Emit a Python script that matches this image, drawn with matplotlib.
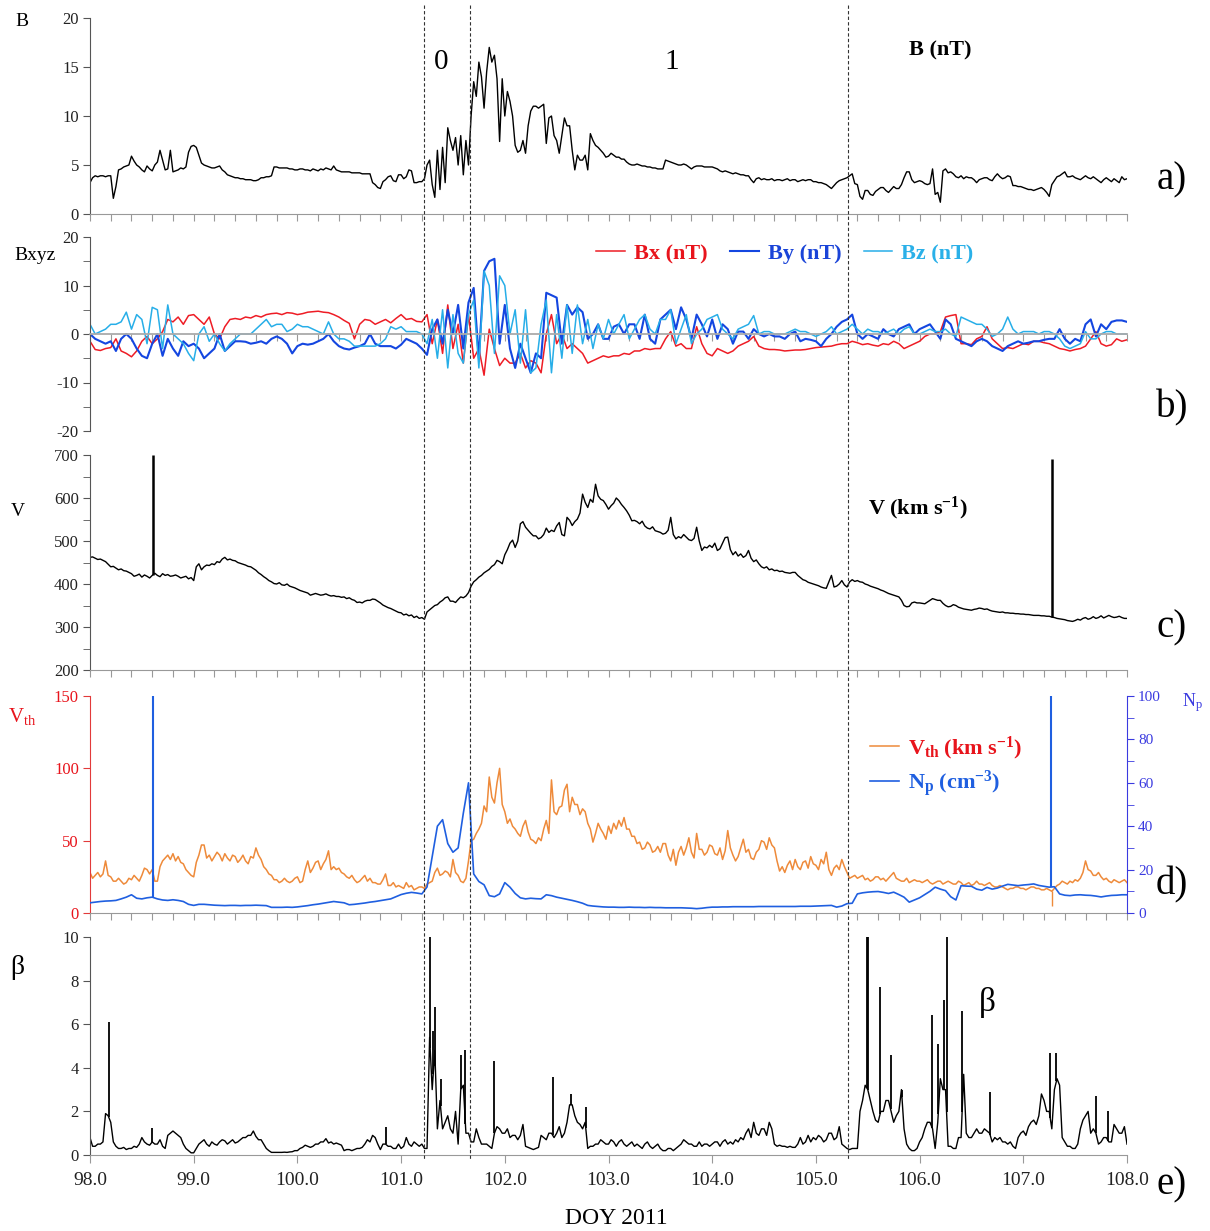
import numpy as np
import matplotlib.pyplot as plt
from matplotlib.lines import Line2D
from matplotlib.ticker import MultipleLocator, FormatStrFormatter

plt.rcParams['font.family'] = ['Liberation Serif', 'DejaVu Serif']
plt.rcParams['mathtext.fontset'] = 'custom'
plt.rcParams['mathtext.rm'] = 'Liberation Serif'
plt.rcParams['mathtext.it'] = 'Liberation Serif:italic'
plt.rcParams['mathtext.bf'] = 'Liberation Serif:bold'
plt.rcParams['axes.unicode_minus'] = False

# time bases, DOY 2011: field components and density every 0.05 day (20 per row),
# |B|, V, Vth and beta every 0.025 day (40 per row)
doy = np.round(98 + 0.05 * np.arange(201), 3)
doy_fine = np.round(98 + 0.025 * np.arange(401), 3)

b_total = [
    3.2, 3.7, 3.9, 3.8, 3.9, 3.9, 3.8, 3.9, 3.9, 1.6, 2.8, 4.5, 4.6, 4.8, 4.9, 5.0, 5.9, 5.4, 5.0, 4.8,
    4.5, 4.3, 4.9, 4.6, 4.4, 5.0, 5.3, 6.5, 5.5, 4.5, 4.6, 6.5, 4.3, 4.4, 4.5, 4.7, 4.6, 4.8, 6.3, 6.9,
    7.0, 6.8, 6.0, 5.2, 5.0, 4.9, 4.8, 4.7, 4.7, 4.8, 4.9, 4.5, 4.3, 4.0, 3.9, 3.8, 3.7, 3.7, 3.6, 3.6,
    3.5, 3.5, 3.5, 3.4, 3.4, 3.5, 3.7, 3.7, 3.8, 3.8, 3.9, 4.8, 4.8, 4.7, 4.7, 4.7, 4.7, 4.6, 4.6, 4.5,
    4.5, 4.6, 4.6, 4.5, 4.5, 4.4, 4.6, 4.5, 4.4, 4.6, 4.5, 4.7, 4.6, 4.5, 4.9, 4.5, 4.4, 4.3, 4.3, 4.3,
    4.3, 4.2, 4.2, 4.2, 4.2, 4.1, 4.1, 4.1, 4.1, 3.2, 3.0, 2.7, 2.6, 3.3, 3.5, 3.8, 3.9, 3.4, 3.3, 4.0,
    4.0, 3.6, 3.8, 4.5, 4.4, 3.2, 3.2, 3.3, 3.3, 3.6, 5.0, 5.5, 3.0, 1.7, 6.5, 2.5, 6.8, 3.2, 8.8, 7.5,
    6.5, 7.8, 5.0, 8.0, 4.0, 7.5, 5.0, 10.0, 13.5, 12.0, 15.5, 14.0, 10.8, 14.5, 17.0, 15.5, 16.2, 13.8, 7.4, 13.8,
    10.0, 12.5, 11.5, 10.0, 7.0, 6.3, 6.5, 7.5, 6.2, 9.0, 10.5, 11.0, 11.0, 10.8, 11.0, 11.2, 7.2, 9.8, 10.0, 8.0,
    7.5, 6.2, 8.0, 9.8, 9.0, 9.0, 6.5, 4.5, 6.0, 5.5, 5.5, 6.0, 4.5, 8.2, 7.5, 7.0, 6.8, 6.5, 6.2, 5.8,
    5.9, 6.2, 6.0, 5.8, 5.8, 5.6, 5.6, 5.3, 5.1, 5.0, 5.0, 5.1, 5.0, 4.9, 4.9, 4.8, 4.8, 4.7, 4.7, 4.6,
    4.6, 4.6, 5.5, 5.4, 5.3, 5.2, 5.1, 5.0, 5.0, 5.1, 5.0, 4.8, 4.6, 4.8, 4.9, 4.9, 4.9, 4.8, 4.8, 4.8,
    4.8, 4.7, 4.6, 4.4, 4.3, 4.4, 4.3, 4.2, 4.1, 4.2, 4.1, 4.0, 4.0, 3.9, 3.9, 3.5, 3.2, 3.6, 3.7, 3.5,
    3.6, 3.5, 3.5, 3.6, 3.4, 3.5, 3.5, 3.4, 3.5, 3.6, 3.4, 3.5, 3.5, 3.3, 3.4, 3.5, 3.4, 3.5, 3.5, 3.3,
    3.3, 3.2, 3.2, 3.1, 3.0, 2.8, 2.6, 2.9, 3.2, 3.4, 3.5, 3.6, 3.7, 3.9, 4.1, 3.1, 3.0, 1.8, 1.5, 2.4,
    2.4, 2.0, 1.9, 2.3, 2.5, 2.7, 2.7, 2.4, 2.2, 2.5, 2.8, 2.6, 2.6, 3.0, 3.7, 4.3, 4.3, 3.5, 3.2, 3.3,
    3.4, 3.3, 3.1, 3.0, 3.1, 4.6, 2.0, 2.2, 1.2, 4.4, 4.6, 4.2, 4.3, 4.1, 3.8, 3.7, 3.9, 3.6, 3.8, 3.7,
    3.7, 3.5, 3.2, 3.5, 3.6, 3.7, 3.7, 3.5, 3.4, 3.8, 4.1, 3.8, 3.6, 3.7, 3.9, 3.8, 2.9, 2.9, 2.8, 2.8,
    2.7, 2.6, 2.5, 2.5, 2.4, 2.5, 2.6, 2.7, 2.5, 2.2, 1.8, 3.0, 3.4, 3.8, 3.9, 4.1, 4.3, 3.8, 3.8, 3.9,
    3.7, 3.6, 3.5, 3.7, 3.9, 3.7, 3.6, 3.8, 3.6, 3.4, 3.2, 3.5, 3.7, 3.5, 3.3, 3.6, 3.4, 3.2, 3.8, 3.5,
    3.6]

b_x = [
    -1.5, -3.2, -3.4, -3.0, -2.8, -1.0, -3.5, -4.0, -4.7, -3.5, -1.5, -0.5, -2.0, -1.0, 0.5, 3.0, 2.5, 3.5, 2.0, 3.8,
    4.0, 3.0, 2.0, 3.5, 0.0, -1.0, 1.5, 3.0, 3.2, 3.0, 3.5, 3.3, 3.8, 3.5, 4.0, 4.2, 4.3, 4.0, 4.4, 4.3,
    4.0, 4.2, 4.5, 4.6, 4.7, 4.5, 4.4, 4.0, 3.5, 2.8, 2.2, -1.0, 2.0, 3.0, 2.8, 2.0, 2.5, 3.0, 2.3, 3.2,
    4.0, 3.0, 3.2, 2.6, 2.5, 4.0, -2.0, 3.0, -4.0, 6.0, -3.0, 2.0, -6.0, 4.0, -5.0, -3.0, -8.5, 1.0, -3.0, -6.5,
    -5.0, -6.0, -6.0, -4.0, -7.0, -5.5, -6.0, -8.0, 0.0, 4.0, -2.0, 0.0, -3.0, -2.0, -3.0, -4.0, -6.0, -5.5, -5.0, -4.5,
    -4.8, -4.5, -4.5, -4.0, -4.2, -3.5, -3.5, -3.0, -3.2, -3.0, -3.0, -1.0, 0.5, -2.5, -2.0, -3.0, -3.0, 1.5, -2.0, -4.0,
    -4.5, -3.0, -3.5, -4.0, -3.5, -2.5, -2.0, -1.5, -0.5, -2.5, -3.0, -3.2, -3.2, -3.3, -3.5, -3.4, -3.3, -3.3, -3.2, -3.0,
    -2.8, -2.7, -2.6, -2.5, -2.2, -2.0, -2.0, -1.5, -1.8, -2.2, -2.0, -2.3, -2.5, -2.0, -2.2, -1.5, -2.0, -3.0, -2.5, -2.0,
    -1.5, -0.5, 0.0, 0.0, 0.5, 3.5, 3.8, 4.0, -2.0, -2.0, -2.2, -1.0, -0.5, 1.5, -1.0, -2.0, -3.0, -2.8, -3.0, -2.5,
    -2.0, -2.2, -1.5, -1.5, -1.8, -2.0, -2.5, -3.0, -3.2, -3.5, -3.2, -3.0, -2.5, -1.0, 0.5, -2.0, -2.5, -2.2, -1.0, -1.5,
    -1.2]

b_y = [
    0.0, -1.0, -1.5, -2.0, -1.5, -3.5, -1.0, 0.0, -1.0, -3.0, -4.5, -5.0, -2.0, 0.0, -4.5, -1.0, -3.0, -4.5, -1.5, -2.5,
    -2.0, -3.0, -5.0, -4.0, -3.0, 0.0, -3.5, -2.5, -1.5, -1.5, -1.6, -2.0, -1.8, -1.5, -2.0, -1.0, -0.5, -1.0, -2.0, -4.0,
    -2.5, -2.0, -2.2, -2.0, -1.5, -1.0, 0.0, -1.5, -2.5, -3.0, -3.2, -2.8, -2.5, -2.0, 0.0, -2.0, -2.5, -2.5, -2.5, -3.0,
    -2.2, -1.0, -1.5, -2.0, -3.0, -4.3, 1.0, 3.0, -2.0, 5.0, 0.0, 6.0, -3.0, 6.5, 9.5, -5.0, 13.0, 15.0, 15.5, -2.0,
    6.0, -3.0, -7.0, -2.0, -5.0, -8.0, -4.0, -5.0, 8.5, 8.0, 7.5, -2.0, 6.0, 4.0, 5.5, 4.5, -1.0, 0.0, 2.0, -1.0,
    -1.0, 1.5, 2.0, 0.0, 2.0, 2.0, -1.0, 4.0, -1.0, -2.0, 3.0, 4.0, 5.0, 1.0, 5.5, 3.0, -1.0, 4.0, 2.0, -0.5,
    3.0, -1.0, 2.0, 1.0, -2.0, 0.5, 0.5, -1.0, 1.0, 0.0, -0.5, 0.0, -0.5, -0.5, -1.0, 0.0, 0.5, -1.5, -1.0, -1.2,
    -1.5, -2.5, -1.0, 0.0, 1.5, 2.5, 3.0, 4.0, 0.0, -1.0, 0.0, -0.5, -1.0, 1.0, 0.0, -0.5, 1.0, 1.5, 2.0, 0.0,
    1.0, 1.5, 2.0, 0.5, -1.0, 3.0, 2.0, -1.0, -1.5, -2.0, -2.5, -1.5, -1.0, -1.5, -2.5, -3.0, -3.5, -2.5, -2.0, -1.5,
    -2.0, -1.8, -1.5, -1.5, -1.2, -1.0, -1.0, 1.0, -1.0, -2.0, -1.0, -1.5, 2.0, 3.0, -0.5, 2.0, 1.0, 2.5, 2.8, 2.8,
    2.5]

b_z = [
    2.0, 0.0, 0.5, 1.0, 2.0, 2.0, 2.5, 4.5, 1.0, 4.0, 3.0, -2.0, 5.5, 5.0, -3.0, 6.0, 0.0, -1.0, -2.0, -4.0,
    -5.5, 0.0, 1.5, -1.5, 0.0, -2.0, -3.5, -2.0, -1.0, 0.0, 0.0, 0.0, 1.0, 2.0, 3.0, 1.5, 2.0, 2.0, 0.5, 1.0,
    2.0, 1.5, 1.5, 1.0, 0.5, 0.0, 2.5, 0.0, -1.0, -1.0, -1.5, -2.5, -2.5, -2.5, -2.5, -2.5, -2.0, -1.0, 1.5, 1.0,
    1.5, 0.5, 0.5, 0.5, 0.0, -2.0, 3.0, -5.0, 5.0, -7.0, 4.0, -4.0, -6.0, 4.0, 7.0, -7.0, 13.0, 10.0, -4.0, 12.0,
    10.0, 0.0, 5.0, -6.0, 5.0, -8.0, -7.0, 2.0, 7.0, -8.0, 4.0, -5.0, 6.0, -4.0, 6.0, -2.0, 3.0, -3.0, 2.0, -1.0,
    3.0, 0.0, 2.0, 4.0, -1.0, 1.0, 3.0, 4.0, 1.0, 0.0, 3.0, 3.0, 5.0, -2.0, 1.0, 4.0, -2.0, 0.0, 1.0, 3.0,
    3.5, 4.0, 1.0, 0.0, -1.0, 1.0, 1.5, 2.0, 3.8, 0.0, 0.5, 0.5, 0.0, 0.0, 0.0, 0.5, 1.0, 0.5, 0.5, 0.0,
    -0.5, 0.0, 0.5, 1.5, 0.0, 0.5, 1.0, 2.0, 1.0, 0.0, 1.0, 0.5, 0.5, 0.0, 0.5, 1.0, 0.0, 1.0, 1.5, 0.0,
    0.0, 0.5, 1.0, 0.5, 0.5, 1.0, 0.0, -0.5, 3.5, 3.0, 2.5, 2.0, 2.0, 1.0, -0.5, 0.0, 1.0, 3.5, 1.0, 0.0,
    0.5, 0.5, 0.5, 0.0, 0.5, 0.5, 0.0, -1.0, -2.5, -3.0, -2.5, -2.0, 0.5, -1.0, -1.0, 0.0, 0.5, 0.5, 0.0, 0.0,
    0.0]

v_speed = [
    462, 463, 460, 457, 458, 455, 452, 446, 440, 441, 437, 433, 435, 431, 430, 427, 424, 418, 420, 423,
    416, 421, 418, 414, 420, 425, 420, 417, 424, 420, 422, 418, 419, 421, 418, 414, 416, 418, 412, 415,
    408, 440, 447, 433, 440, 444, 443, 447, 445, 452, 450, 458, 462, 456, 458, 455, 454, 450, 448, 446,
    444, 441, 440, 436, 432, 426, 422, 417, 413, 408, 405, 401, 400, 403, 398, 397, 400, 395, 393, 391,
    388, 385, 383, 381, 379, 374, 376, 378, 376, 374, 375, 377, 374, 372, 373, 371, 371, 369, 370, 366,
    368, 364, 362, 357, 358, 356, 360, 362, 362, 365, 364, 360, 356, 351, 348, 345, 343, 340, 337, 334,
    333, 328, 330, 326, 328, 322, 325, 320, 322, 318, 335, 340, 345, 350, 352, 358, 362, 368, 370, 360,
    360, 357, 364, 370, 368, 372, 380, 395, 405, 410, 416, 420, 426, 430, 434, 441, 445, 455, 452, 447,
    468, 480, 495, 502, 485, 500, 540, 545, 532, 525, 518, 512, 512, 505, 508, 515, 530, 520, 525, 522,
    535, 543, 515, 512, 555, 548, 536, 545, 551, 565, 609, 590, 578, 597, 590, 632, 605, 597, 594, 585,
    574, 582, 588, 600, 594, 585, 578, 570, 560, 547, 548, 545, 540, 546, 535, 530, 528, 533, 524, 522,
    520, 516, 518, 525, 555, 515, 505, 510, 507, 515, 509, 503, 501, 506, 532, 500, 478, 486, 484, 490,
    485, 495, 478, 482, 495, 508, 509, 480, 468, 475, 465, 470, 462, 466, 478, 460, 452, 456, 447, 440,
    437, 440, 433, 435, 431, 432, 429, 430, 427, 426, 425, 427, 427, 420, 415, 410, 408, 404, 402, 400,
    398, 396, 393, 391, 390, 405, 420, 393, 395, 400, 408, 398, 393, 405, 410, 406, 408, 405, 404, 400,
    398, 395, 393, 391, 389, 386, 384, 381, 378, 376, 374, 372, 370, 362, 350, 347, 348, 356, 358, 356,
    356, 355, 354, 358, 362, 366, 364, 362, 362, 355, 350, 347, 348, 352, 350, 346, 344, 342, 341, 340,
    339, 341, 342, 344, 343, 341, 342, 339, 337, 336, 335, 334, 335, 333, 333, 332, 332, 331, 331, 330,
    330, 329, 329, 328, 327, 327, 327, 326, 326, 325, 325, 323, 322, 320, 319, 318, 317, 315, 314, 313,
    315, 318, 316, 320, 322, 318, 320, 324, 320, 322, 326, 321, 324, 327, 324, 322, 323, 325, 322, 320,
    320]
v_spike_doy = [98.61, 107.28]
v_spike_val = [700, 690]

v_thermal = [
    28, 24, 26, 28, 25, 27, 36, 26, 25, 22, 22, 24, 22, 20, 21, 24, 23, 26, 24, 22,
    26, 31, 30, 27, 30, 22, 22, 32, 36, 38, 40, 37, 41, 36, 39, 35, 34, 30, 28, 26,
    25, 35, 40, 47, 47, 38, 40, 36, 39, 42, 40, 36, 41, 38, 36, 40, 39, 35, 37, 40,
    36, 34, 39, 38, 45, 40, 37, 32, 30, 27, 26, 23, 23, 21, 22, 24, 22, 21, 22, 24,
    25, 21, 22, 30, 36, 28, 31, 35, 36, 30, 34, 37, 43, 30, 32, 30, 31, 28, 27, 25,
    24, 26, 23, 21, 22, 24, 26, 22, 24, 21, 21, 20, 20, 23, 27, 19, 19, 21, 18, 19,
    18, 17, 21, 18, 19, 16, 17, 18, 18, 17, 20, 21, 22, 28, 31, 26, 27, 29, 28, 25,
    37, 28, 26, 22, 21, 24, 36, 50, 51, 55, 58, 62, 74, 70, 94, 80, 76, 90, 100, 75,
    70, 62, 65, 60, 58, 55, 53, 60, 64, 56, 51, 50, 48, 52, 50, 58, 64, 55, 92, 70,
    68, 73, 74, 85, 89, 70, 80, 75, 75, 68, 72, 70, 62, 58, 49, 55, 62, 58, 55, 51,
    60, 55, 62, 58, 64, 60, 66, 58, 58, 53, 53, 48, 49, 44, 45, 49, 47, 42, 43, 46,
    42, 48, 48, 40, 36, 44, 33, 42, 46, 40, 45, 52, 42, 38, 55, 44, 44, 40, 42, 47,
    46, 41, 40, 45, 37, 43, 57, 45, 40, 36, 39, 45, 51, 42, 44, 38, 37, 42, 44, 50,
    49, 44, 52, 47, 45, 36, 29, 32, 28, 33, 36, 30, 37, 32, 30, 35, 36, 31, 39, 34,
    33, 30, 37, 34, 42, 30, 26, 31, 33, 30, 37, 32, 28, 24, 25, 26, 24, 25, 26, 23,
    24, 22, 23, 25, 25, 23, 24, 22, 24, 26, 28, 24, 23, 22, 22, 24, 21, 22, 23, 22,
    22, 21, 22, 23, 21, 20, 21, 22, 22, 20, 21, 22, 21, 20, 20, 22, 21, 19, 20, 21,
    19, 20, 22, 20, 20, 19, 20, 21, 19, 18, 18, 19, 18, 17, 16, 17, 17, 18, 18, 17,
    17, 16, 17, 18, 18, 17, 17, 16, 16, 17, 16, 15, 17, 19, 20, 22, 21, 20, 22, 21,
    23, 22, 24, 28, 36, 30, 29, 26, 26, 28, 25, 23, 24, 22, 21, 23, 22, 21, 22, 23,
    21]
vth_spike_doy = [107.28]
vth_spike_val = [5]

n_p = [
    4.7, 5.0, 5.3, 5.5, 5.6, 5.8, 6.5, 7.3, 8.4, 6.8, 6.5, 7.0, 7.3, 6.5, 6.0, 5.8, 6.1, 5.8, 5.3, 4.0,
    3.5, 4.0, 4.0, 3.8, 3.6, 3.5, 3.4, 3.5, 3.5, 3.4, 3.5, 3.5, 3.6, 3.5, 3.4, 2.6, 2.6, 2.6, 2.7, 2.6,
    2.8, 3.1, 3.4, 3.8, 4.1, 4.5, 4.9, 5.3, 5.0, 4.7, 3.8, 4.0, 4.3, 4.6, 5.0, 5.3, 5.7, 6.1, 6.5, 7.5,
    8.5, 9.1, 9.5, 9.2, 8.8, 12.0, 26.0, 40.0, 43.0, 32.0, 28.0, 30.0, 46.0, 60.0, 18.0, 14.5, 13.0, 8.0, 7.5, 8.8,
    14.0, 11.9, 9.0, 7.0, 6.5, 6.8, 6.6, 6.5, 8.4, 8.0, 7.3, 6.8, 6.3, 5.8, 5.2, 4.5, 3.5, 3.2, 3.0, 2.8,
    2.7, 2.7, 2.6, 2.6, 2.7, 2.6, 2.6, 2.5, 2.6, 2.5, 2.5, 2.4, 2.4, 2.4, 2.4, 2.3, 2.2, 2.0, 2.2, 2.5,
    2.7, 2.7, 2.8, 2.8, 2.9, 2.9, 2.9, 2.9, 2.9, 3.0, 3.0, 3.0, 3.0, 3.0, 3.0, 3.0, 3.0, 3.1, 3.1, 3.1,
    3.2, 3.3, 3.4, 3.5, 2.7, 3.2, 4.3, 4.5, 8.8, 9.3, 9.6, 9.8, 9.9, 9.5, 9.0, 9.6, 8.5, 7.3, 5.0, 6.0,
    7.0, 8.5, 10.0, 11.9, 11.0, 10.3, 7.5, 6.0, 12.6, 12.4, 12.3, 11.0, 10.5, 11.8, 11.0, 11.5, 12.4, 13.2, 12.9, 12.6,
    12.9, 13.1, 13.4, 12.7, 12.3, 11.9, 12.1, 8.8, 8.2, 8.0, 8.3, 8.4, 8.2, 8.1, 7.8, 7.4, 7.8, 8.1, 8.2, 8.4,
    8.4]
np_spike_doy = [98.61, 107.27]
np_spike_val = [100, 100]

beta = [
    0.8, 0.4, 0.4, 0.5, 0.5, 0.6, 1.9, 1.8, 1.5, 0.6, 0.4, 0.3, 0.3, 0.35, 0.25, 0.3, 0.3, 0.4, 0.35, 0.5,
    0.8, 0.6, 0.5, 0.45, 0.6, 0.5, 0.5, 0.7, 0.4, 0.3, 0.9, 1.0, 1.1, 1.0, 0.9, 0.8, 0.5, 0.3, 0.2, 0.1,
    0.1, 0.3, 0.5, 0.6, 0.7, 0.5, 0.4, 0.6, 0.5, 0.45, 0.6, 0.7, 0.65, 0.5, 0.6, 0.7, 0.55, 0.6, 0.7, 0.8,
    0.8, 0.9, 0.9, 1.1, 0.85, 0.7, 0.7, 0.5, 0.3, 0.2, 0.12, 0.12, 0.12, 0.12, 0.12, 0.13, 0.12, 0.14, 0.15, 0.2,
    0.2, 0.3, 0.35, 0.45, 0.4, 0.35, 0.4, 0.5, 0.5, 0.6, 0.6, 0.75, 0.55, 0.6, 0.5, 0.55, 0.5, 0.45, 0.2, 0.25,
    0.25, 0.2, 0.25, 0.3, 0.3, 0.35, 0.5, 0.7, 0.6, 0.9, 0.8, 0.5, 0.25, 0.5, 0.5, 0.4, 0.4, 0.3, 0.3, 0.5,
    0.3, 0.4, 0.8, 0.5, 0.4, 0.6, 0.5, 0.4, 0.5, 0.3, 0.3, 5.4, 3.0, 4.8, 1.2, 2.5, 1.2, 1.5, 1.8, 1.2,
    1.0, 2.0, 0.5, 3.0, 3.2, 1.0, 1.0, 0.6, 0.6, 1.2, 0.8, 0.5, 0.5, 0.5, 0.4, 0.3, 1.0, 1.3, 1.2, 1.0,
    1.0, 1.2, 0.8, 0.9, 0.9, 0.7, 0.9, 1.4, 0.4, 0.35, 0.3, 0.25, 0.3, 0.35, 0.9, 0.8, 0.7, 1.0, 1.0, 0.8,
    1.0, 1.3, 0.8, 1.0, 1.5, 2.3, 2.3, 1.8, 1.5, 1.4, 1.2, 1.5, 0.3, 0.4, 0.4, 0.5, 0.5, 0.7, 0.6, 0.5,
    0.5, 0.7, 0.6, 0.4, 0.6, 0.7, 0.5, 0.4, 0.5, 0.6, 0.4, 0.5, 0.4, 0.3, 0.5, 0.6, 0.4, 0.3, 0.4, 0.5,
    0.3, 0.2, 0.2, 0.3, 0.3, 0.2, 0.3, 0.4, 0.5, 0.7, 0.6, 0.5, 0.5, 0.4, 0.4, 0.6, 0.4, 0.5, 0.5, 0.4,
    0.5, 0.6, 0.6, 0.4, 0.6, 0.7, 0.5, 0.6, 0.5, 0.7, 0.6, 0.8, 0.7, 1.0, 1.2, 0.8, 1.5, 1.0, 0.9, 1.2,
    1.2, 0.9, 1.5, 1.2, 0.5, 0.4, 0.45, 0.4, 0.4, 0.35, 0.4, 0.35, 0.35, 0.5, 0.8, 0.5, 0.6, 0.9, 0.6, 0.8,
    0.7, 0.9, 0.8, 0.6, 0.7, 1.0, 1.0, 0.7, 0.8, 1.3, 0.5, 0.4, 0.3, 0.25, 0.3, 0.3, 0.3, 2.0, 2.5, 3.2,
    3.0, 2.5, 2.0, 1.6, 1.5, 2.0, 2.0, 2.5, 2.5, 2.0, 1.5, 1.8, 2.0, 3.0, 1.2, 0.5, 0.3, 0.2, 0.2, 0.3,
    0.6, 0.8, 1.2, 1.5, 1.5, 1.2, 0.3, 1.5, 3.5, 3.0, 3.0, 0.4, 0.4, 0.3, 0.3, 0.8, 0.8, 3.7, 1.0, 0.8,
    0.8, 1.0, 1.2, 1.0, 1.0, 1.2, 1.1, 1.0, 0.6, 0.8, 0.7, 0.8, 0.6, 0.6, 0.5, 0.6, 0.4, 0.3, 0.8, 1.0,
    1.1, 0.9, 1.3, 1.5, 1.6, 1.4, 1.8, 2.8, 2.5, 2.0, 2.0, 1.2, 3.0, 3.5, 3.2, 0.8, 0.6, 0.4, 0.4, 0.3,
    0.3, 0.5, 1.2, 1.6, 1.8, 2.0, 1.0, 1.2, 1.0, 0.5, 0.6, 0.8, 0.8, 0.6, 0.6, 1.4, 1.2, 1.0, 1.0, 1.3,
    0.5]
beta_spike_doy = [98.18, 98.60, 100.85, 101.28, 101.31, 101.33, 101.38, 101.58, 101.62, 101.90,
                  102.46, 102.64, 102.78, 105.49, 105.50, 105.62, 105.72, 105.83, 106.12, 106.18,
                  106.24, 106.26, 106.41, 106.68, 107.26, 107.32, 107.70, 107.82]
beta_spike_val = [6.1, 1.25, 1.3, 10.0, 5.7, 6.8, 3.5, 4.6, 4.8, 4.3,
                  3.6, 2.8, 2.2, 10.0, 10.0, 7.7, 4.6, 3.0, 6.4, 5.1,
                  7.1, 10.0, 6.6, 2.9, 4.7, 4.7, 2.7, 2.0]

boundaries = [101.22, 101.66, 105.31]

W, H = 1210, 1231
fig = plt.figure(figsize=(W / 100, H / 100), dpi=100)


def panel(top, bottom):
    return fig.add_axes([90 / W, 1 - bottom / H, 1037 / W, (bottom - top) / H])


def style(ax, ylim, major, minor=None, xlabels=False):
    ax.set_xlim(98, 108)
    ax.set_ylim(*ylim)
    for s in ('top', 'right'):
        ax.spines[s].set_visible(False)
    ax.spines['left'].set_color('#555555')
    ax.spines['bottom'].set_color('#999999')
    ax.yaxis.set_major_locator(MultipleLocator(major))
    if minor:
        ax.yaxis.set_minor_locator(MultipleLocator(minor))
    ax.tick_params(axis='y', which='both', direction='out', length=5, color='#555555',
                   labelsize=12, pad=3, labelcolor='#222222')
    if xlabels:
        ax.xaxis.set_major_locator(MultipleLocator(1))
        ax.xaxis.set_major_formatter(FormatStrFormatter('%.1f'))
        ax.tick_params(axis='x', length=6, labelsize=14, pad=6, color='#999999', labelcolor='#222222')
    else:
        ax.xaxis.set_major_locator(MultipleLocator(0.2))
        ax.tick_params(axis='x', labelbottom=False, length=5, color='#999999')


def spikes(ax, t, top, tbase, series, color, lw=1.4):
    base = np.interp(t, tbase, series)
    ax.vlines(t, base, top, color=color, lw=lw)


def label(x, y, s, **kw):
    fig.text(x / W, 1 - y / H, s, ha='center', va='center', **kw)


# a) total field
ax_a = panel(18, 214)
ax_a.plot(doy_fine, b_total, color='k', lw=1.0)
style(ax_a, (0, 20), 5)

# b) field components
ax_b = panel(237, 431)
lx, = ax_b.plot(doy, b_x, color='#ee1c25', lw=1.1)
ly, = ax_b.plot(doy, b_y, color='#1446e0', lw=1.5)
lz, = ax_b.plot(doy, b_z, color='#27aee8', lw=1.1)
style(ax_b, (-20, 20), 10, 5)
ax_b.spines['bottom'].set_position(('data', 0))
ax_b.spines['bottom'].set_linewidth(1.3)
ax_b.spines['bottom'].set_color('#aaaaaa')
ax_b.legend([lx, ly, lz], ['Bx (nT)', 'By (nT)', 'Bz (nT)'], ncol=3, frameon=False,
            loc='center', bbox_to_anchor=(785 / W, 1 - 254 / H), bbox_transform=fig.transFigure,
            prop={'weight': 'bold', 'size': 16}, handlelength=1.3, handletextpad=0.4,
            columnspacing=1.0, labelcolor=['#e8141c', '#1a44d8', '#2ab0e8'])

# c) bulk speed
ax_c = panel(455, 670)
ax_c.plot(doy_fine, v_speed, color='k', lw=1.0)
spikes(ax_c, v_spike_doy, v_spike_val, doy_fine, v_speed, 'k', lw=1.8)
style(ax_c, (200, 700), 100, 50)

# d) thermal speed and density
ax_d = panel(696, 913)
l_vth, = ax_d.plot(doy_fine, v_thermal, color='#ee8a3a', lw=1.1)
spikes(ax_d, vth_spike_doy, vth_spike_val, doy_fine, v_thermal, '#ee8a3a', lw=1.0)
style(ax_d, (0, 150), 50)
ax_d.spines['left'].set_color('#e23a3a')
ax_d.tick_params(axis='y', color='#e23a3a', labelcolor='#e8141c')
ax_d2 = ax_d.twinx()
l_np, = ax_d2.plot(doy, n_p, color='#1f5fe0', lw=1.2)
spikes(ax_d2, np_spike_doy, np_spike_val, doy, n_p, '#1f5fe0', lw=1.5)
ax_d2.set_ylim(0, 100)
ax_d2.set_xlim(98, 108)
for s in ('top', 'left', 'bottom'):
    ax_d2.spines[s].set_visible(False)
ax_d2.spines['right'].set_color('#3a3ae0')
ax_d2.yaxis.set_major_locator(MultipleLocator(20))
ax_d2.yaxis.set_minor_locator(MultipleLocator(10))
ax_d2.tick_params(axis='y', which='both', length=5, color='#3a3ae0', labelcolor='#3a3ae0',
                  labelsize=11, pad=3)
ax_d2.legend([l_vth, l_np], [r'$\mathbf{V_{th}\ (km\ s^{-1})}$', r'$\mathbf{N_p\ (cm^{-3})}$'],
             frameon=False, loc='center', bbox_to_anchor=(946 / W, 1 - 767 / H),
             bbox_transform=fig.transFigure, fontsize=16, handlelength=1.3, handletextpad=0.4,
             labelspacing=0.3, labelcolor=['#e8141c', '#1f5fe0'])

# e) plasma beta
ax_e = panel(937, 1155)
ax_e.plot(doy_fine, beta, color='k', lw=1.0)
spikes(ax_e, beta_spike_doy, beta_spike_val, doy_fine, beta, 'k', lw=1.3)
style(ax_e, (0, 10), 2, xlabels=True)

# region boundaries run through all panels
for t in boundaries:
    xf = ax_e.transData.transform((t, 0))[0] / fig.bbox.width
    fig.add_artist(Line2D([xf, xf], [1 - 5 / H, 1 - 1160 / H], transform=fig.transFigure,
                          color='#333333', lw=0.8, ls=(0, (3, 2))))

# axis names on the left
label(22, 22, 'B', fontsize=14)
label(35, 255, 'Bxyz', fontsize=14)
label(18, 512, 'V', fontsize=14)
label(22, 716, r'V$_{\rm th}$', fontsize=15, color='#e8141c')
label(17, 968, 'β', fontsize=20)
label(1192, 703, r'N$_{\rm p}$', fontsize=13, color='#3a3ae0')

# annotations
label(441, 62, '0', fontsize=21)
label(672, 62, '1', fontsize=21)
label(940, 50, 'B (nT)', fontsize=16, fontweight='bold')
label(918, 508, r'$\mathbf{V\ (km\ s^{-1})}$', fontsize=16)
label(987, 1003, 'β', fontsize=24)
for s, y in zip(['a)', 'b)', 'c)', 'd)', 'e)'], [180, 408, 628, 885, 1185]):
    label(1172, y, s, fontsize=28)
label(616, 1218, 'DOY 2011', fontsize=17)

fig.savefig('out.png', dpi=100)
